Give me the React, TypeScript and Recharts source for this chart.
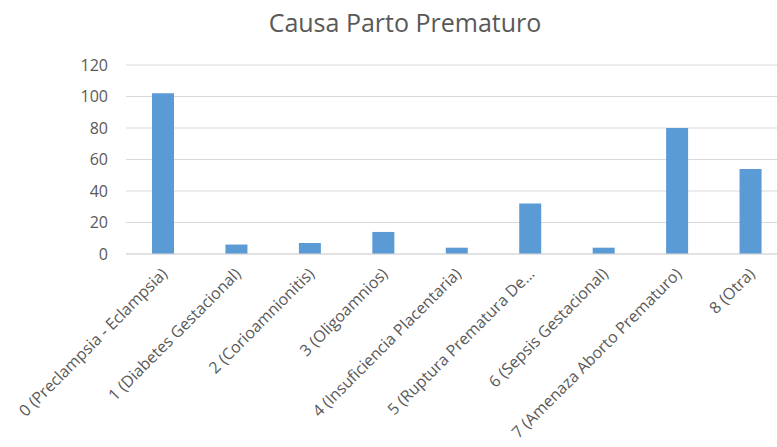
import { BarChart, Bar, XAxis, YAxis, CartesianGrid } from 'recharts';

const causas = [
  '0 (Preclampsia - Eclampsia)',
  '1 (Diabetes Gestacional)',
  '2 (Corioamnionitis)',
  '3 (Oligoamnios)',
  '4 (Insuficiencia Placentaria)',
  '5 (Ruptura Prematura De...',
  '6 (Sepsis Gestacional)',
  '7 (Amenaza Aborto Prematuro)',
  '8 (Otra)',
];
const casos = [102, 6, 7, 14, 4, 32, 4, 80, 54];
const yTicks = [0, 20, 40, 60, 80, 100, 120];

const FONT = '"Open Sans", sans-serif';

const data = causas.map((c, i) => ({ causa: c, casos: casos[i] }));

// category labels slanted 45° and anchored at their end, under each bar
function AngledTick({ x, y, payload }: { x?: number; y?: number; payload?: { value: string } }) {
  return (
    <text x={x} y={y} transform={`rotate(-45, ${x}, ${y})`} textAnchor="end" dy={6} dx={2}
          fill="#595959" fontSize={16} fontFamily={FONT}>
      {payload?.value}
    </text>
  );
}

export default function App() {
  return (
    <div style={{ position: 'relative', width: 777, height: 447, overflow: 'hidden', background: '#fff' }}>
      <style>{'body{margin:0}'}</style>
      <div style={{ position: 'absolute', top: 10, left: 0, width: 810, textAlign: 'center',
        fontFamily: FONT, fontSize: 25, lineHeight: 1, color: '#595959' }}>
        Causa Parto Prematuro
      </div>
      <BarChart width={800} height={447} data={data} barSize={22}
                margin={{ top: 65, right: 13, bottom: 0, left: 0 }}>
        <CartesianGrid stroke="#d9d9d9" vertical={false} />
        <XAxis dataKey="causa" interval={0} height={193} tickLine={false}
               stroke="#d9d9d9" tick={<AngledTick />} tickMargin={12} />
        <YAxis domain={[0, 120]} ticks={yTicks} width={126} axisLine={false} tickLine={false}
               tickSize={0} tickMargin={18} tick={{ fill: '#595959', fontSize: 16, fontFamily: FONT }} />
        <Bar dataKey="casos" fill="#5b9bd5" isAnimationActive={false} />
      </BarChart>
    </div>
  );
}
